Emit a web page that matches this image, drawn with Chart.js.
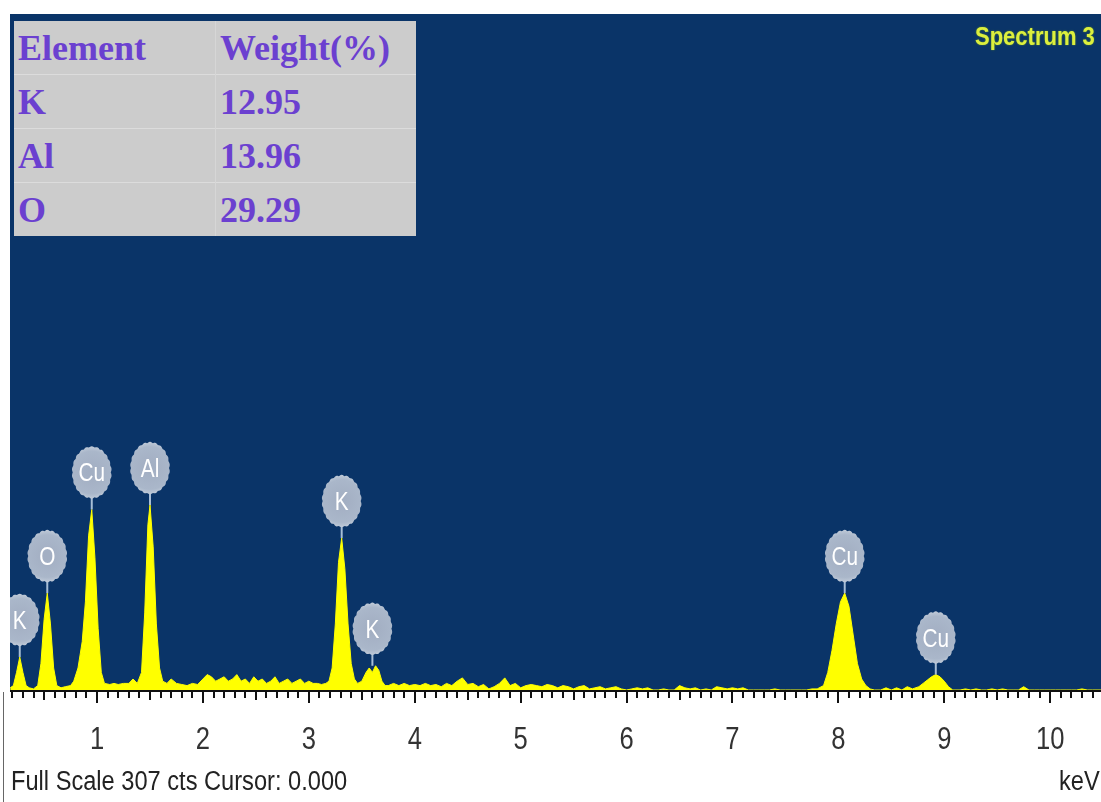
<!DOCTYPE html>
<html>
<head>
<meta charset="utf-8">
<title>EDS Spectrum 3</title>
<script src="https://cdn.jsdelivr.net/npm/chart.js@4.4.0/dist/chart.umd.min.js"></script>
<style>
  body { margin: 0; background: #fff; }
  #wrap { position: relative; width: 1101px; height: 802px; overflow: hidden; }
  #spectrum { position: absolute; left: 0; top: 0; }
  #weights {
    position: absolute; left: 14px; top: 21px; width: 402px;
    border-collapse: collapse; background: #cccccc;
    font-family: 'Liberation Serif', 'Times New Roman', serif;
    font-weight: bold; font-size: 36px; color: #6b40d0;
  }
  #weights td { height: 53px; padding: 0 0 0 4px; line-height: 1; vertical-align: middle; }
  #weights tr + tr td { border-top: 1px solid #dcdcdc; }
  #weights td + td { border-left: 1px solid #d6d6d6; }
  .narrow { font-family: 'Liberation Sans', Arial, sans-serif; white-space: nowrap; transform-origin: left top; }
  #title { position: absolute; left: 975px; top: 22px; font-size: 25px; font-weight: bold; color: #dcef3e; text-shadow: 0 0 2px #5f8a2a; transform: scaleX(0.88); }
  #footer { position: absolute; left: 11px; top: 766px; font-size: 27px; color: #222; transform: scaleX(0.875); }
  #unit { position: absolute; left: 1059px; top: 766px; font-size: 27px; color: #222; transform: scaleX(0.875); }
  #edge { position: absolute; left: 3px; top: 692px; width: 1px; height: 110px; background: #666; }
</style>
</head>
<body>
<div id="wrap">
  <canvas id="spectrum" width="1101" height="802"></canvas>
  <table id="weights">
    <tr><td style="width:197px">Element</td><td>Weight(%)</td></tr>
    <tr><td>K</td><td>12.95</td></tr>
    <tr><td>Al</td><td>13.96</td></tr>
    <tr><td>O</td><td>29.29</td></tr>
  </table>
  <div id="title" class="narrow">Spectrum 3</div>
  <div id="footer" class="narrow">Full Scale 307 cts Cursor: 0.000</div>
  <div id="unit" class="narrow">keV</div>
  <div id="edge"></div>
</div>
<script>
// energy axis (keV) and counts
const energies = [
  0.18, 0.21, 0.24, 0.27, 0.30, 0.33, 0.36, 0.40, 0.44, 0.47, 0.50, 0.53, 0.56, 0.59, 0.62, 0.66,
  0.70, 0.75, 0.78, 0.82, 0.86, 0.89, 0.92, 0.95, 0.98, 1.01, 1.04, 1.07, 1.12, 1.16, 1.20, 1.25, 1.30, 1.34, 1.38,
  1.42, 1.45, 1.48, 1.50, 1.53, 1.56, 1.59, 1.62, 1.66,
  1.70, 1.75, 1.80, 1.85, 1.90, 1.95, 2.00, 2.04, 2.08, 2.12, 2.16, 2.20, 2.24, 2.28, 2.32, 2.36, 2.40, 2.44,
  2.48, 2.52, 2.56, 2.60, 2.64, 2.68, 2.72, 2.76, 2.80, 2.84, 2.88, 2.92, 2.96, 3.00, 3.04, 3.08, 3.12, 3.16,
  3.19, 3.22, 3.25, 3.28, 3.31, 3.34, 3.37, 3.40, 3.43, 3.46, 3.50, 3.54, 3.57, 3.60, 3.63, 3.66, 3.69, 3.72,
  3.75, 3.80, 3.85, 3.90, 3.95, 4.00, 4.05, 4.10, 4.15, 4.20, 4.25, 4.30, 4.35, 4.40, 4.45, 4.50, 4.55, 4.60, 4.65, 4.70, 4.75, 4.80, 4.85,
  4.90, 4.95, 5.00, 5.05, 5.10, 5.15, 5.20, 5.25, 5.30, 5.35, 5.40, 5.45, 5.50, 5.55, 5.60, 5.65, 5.70, 5.75, 5.80, 5.85, 5.90, 5.95, 6.00,
  6.05, 6.10, 6.15, 6.20, 6.25, 6.30, 6.35, 6.40, 6.45, 6.50, 6.55, 6.60, 6.65, 6.70, 6.75, 6.80, 6.85, 6.90,
  6.95, 7.00, 7.05, 7.10, 7.15, 7.20, 7.25, 7.30, 7.35, 7.40, 7.45, 7.50, 7.55, 7.60, 7.65, 7.70, 7.75,
  7.80, 7.86, 7.90, 7.94, 7.98, 8.02, 8.06, 8.10, 8.14, 8.18, 8.22, 8.26, 8.30, 8.34,
  8.40, 8.45, 8.50, 8.55, 8.60, 8.65, 8.70, 8.76, 8.80, 8.84, 8.88, 8.92, 8.96, 9.00, 9.04, 9.08,
  9.15, 9.20, 9.25, 9.30, 9.35, 9.40, 9.45, 9.50, 9.55, 9.60, 9.65, 9.70, 9.75, 9.80,
  9.85, 9.90, 9.95, 10.00, 10.05, 10.10, 10.15, 10.20, 10.25, 10.30, 10.35, 10.40, 10.48
];
const counts = [
  1, 2, 8, 15, 8, 2, 1, 0.5, 2, 12, 32, 44, 30, 10, 2, 1,
  1.5, 2, 4, 10, 22, 40, 70, 82, 60, 28, 8, 3, 2.5, 3, 2.5, 3, 3, 5, 3,
  8, 35, 75, 84, 65, 30, 10, 4, 3,
  5, 3, 2.5, 2, 3, 2.5, 5, 7, 6, 4, 5, 6, 4, 5, 7, 4, 5, 3,
  6, 4, 5, 3, 4, 6, 3, 4, 5, 3, 4, 5, 3, 4, 3, 3, 2.5, 3,
  4, 10, 30, 58, 69, 55, 30, 12, 5, 3, 4, 8, 10, 8, 11, 9, 4, 2,
  2, 3, 2, 3, 2, 2.5, 2, 3, 2, 2.5, 1.5, 3, 2, 4, 5.5, 2.5, 3, 1.5, 2.5, 0.5, 1.5, 3, 5.5,
  2, 3, 1, 2, 2.5, 2, 1.5, 2.5, 2, 1, 2, 1.5, 0.5, 1.5, 2, 0.5, 1, 1.5, 0.5, 1, 1.5, 0.5, 0,
  0.5, 1, 0.5, 1, 0, 0, 0.5, 0, 0, 2, 1, 0.5, 1, 0, 0.5, 0, 1.5, 1,
  0.5, 1, 0.5, 1, 0, 0, 0, 0, 0, 0.5, 0, 0, 0, 0, 0, 0, 0.5,
  0.5, 2, 8, 18, 30, 40, 44, 38, 25, 12, 5, 2, 0.5, 0,
  0, 1, 0, 1, 0, 1.5, 0.5, 1.5, 3, 4.5, 6, 7, 6, 4, 1.5, 0,
  0, 0.5, 0, 0.5, 0, 0, 0.5, 0, 0.5, 0, 0, 0, 1.5, 0,
  0, 0, 0, 0, 0, 0, 0, 0, 0, 0.5, 0, 0, 0
];

// peak markers
const peakNames = ['K', 'O', 'Cu', 'Al', 'K', 'K', 'Cu', 'Cu'];
const peakEnergies = [0.27, 0.53, 0.95, 1.50, 3.31, 3.60, 8.06, 8.92];
const peakTops = [15, 44, 82, 84, 69, 11, 44, 7];

// axis labels
const tickLabels = ['1', '2', '3', '4', '5', '6', '7', '8', '9', '10'];

const fullScale = 307;
const keVMin = 0.178;
const keVMax = 10.48;

const sansFont = "'Liberation Sans', Arial, sans-serif";

function badgePath(ctx, cx, cy, rx, ry) {
    ctx.beginPath();
    for (let k = 0; k <= 120; k++) {
        const t = k / 120 * Math.PI * 2;
        const f = 1 + 0.05 * Math.abs(Math.sin(t * 11));
        const px = cx + rx * f * Math.cos(t);
        const py = cy + ry * f * Math.sin(t);
        if (k === 0) ctx.moveTo(px, py); else ctx.lineTo(px, py);
    }
    ctx.closePath();
}

// narrow text: squeeze horizontally round the anchor
function squeezedText(ctx, text, x, y, sx) {
    ctx.save();
    ctx.translate(x, y);
    ctx.scale(sx, 1);
    ctx.fillText(text, 0, 0);
    ctx.restore();
}

const spectrumPanel = {
    id: 'spectrumPanel',
    beforeDraw(chart) {
        const { ctx, chartArea: a } = chart;
        ctx.save();
        ctx.fillStyle = '#0a3468';
        ctx.fillRect(a.left, a.top, a.right - a.left, a.bottom - a.top);
        ctx.restore();
    },
    afterDatasetsDraw(chart) {
        const { ctx, chartArea: a, scales } = chart;
        const xs = scales.x, ys = scales.y;

        // baseline, tick marks and keV labels
        ctx.save();
        ctx.fillStyle = '#111';
        ctx.fillRect(a.left, a.bottom, a.right - a.left, 2);
        for (let i = 2; i <= 104; i++) {
            const x = Math.round(xs.getPixelForValue(i / 10));
            const len = i % 10 === 0 ? 13 : (i % 5 === 0 ? 10 : 8);
            ctx.fillRect(x - 1, a.bottom, 2, len);
        }
        ctx.fillStyle = '#333';
        ctx.font = '32px ' + sansFont;
        ctx.textAlign = 'center';
        ctx.textBaseline = 'alphabetic';
        tickLabels.forEach(t => {
            squeezedText(ctx, t, xs.getPixelForValue(Number(t)), a.bottom + 59, 0.8);
        });
        ctx.restore();

        // element badges
        ctx.save();
        ctx.beginPath();
        ctx.rect(a.left, a.top, a.right - a.left, a.bottom - a.top);
        ctx.clip();
        const rx = 19, ry = 25;
        peakNames.forEach((name, i) => {
            const x = xs.getPixelForValue(peakEnergies[i]);
            const top = ys.getPixelForValue(peakTops[i]);
            const cy = top - 37;
            ctx.strokeStyle = '#a8bed6';
            ctx.lineWidth = 2;
            ctx.beginPath();
            ctx.moveTo(x, cy + ry);
            ctx.lineTo(x, top);
            ctx.stroke();
            const g = ctx.createRadialGradient(x, cy, 4, x, cy, ry + 2);
            g.addColorStop(0, '#a3afc3');
            g.addColorStop(0.75, '#aab7ca');
            g.addColorStop(1, '#c4cedb');
            badgePath(ctx, x, cy, rx, ry);
            ctx.fillStyle = g;
            ctx.fill();
            ctx.fillStyle = '#ffffff';
            ctx.font = '26px ' + sansFont;
            ctx.textAlign = 'center';
            ctx.textBaseline = 'alphabetic';
            squeezedText(ctx, name, x, cy + 9, 0.8);
        });
        ctx.restore();
    }
};

const points = energies.map((e, i) => ({ x: e, y: counts[i] }));

new Chart(document.getElementById('spectrum').getContext('2d'), {
    type: 'line',
    data: {
        datasets: [{
            data: points,
            fill: 'origin',
            backgroundColor: '#ffff00',
            borderColor: '#ffff00',
            borderWidth: 1,
            pointRadius: 0,
            tension: 0
        }]
    },
    options: {
        responsive: false,
        animation: false,
        layout: { padding: { left: 10, top: 14, right: 0, bottom: 112 } },
        plugins: { legend: { display: false }, tooltip: { enabled: false } },
        scales: {
            x: { type: 'linear', min: keVMin, max: keVMax, display: false },
            y: { min: 0, max: fullScale, display: false }
        }
    },
    plugins: [spectrumPanel]
});
</script>
</body>
</html>
